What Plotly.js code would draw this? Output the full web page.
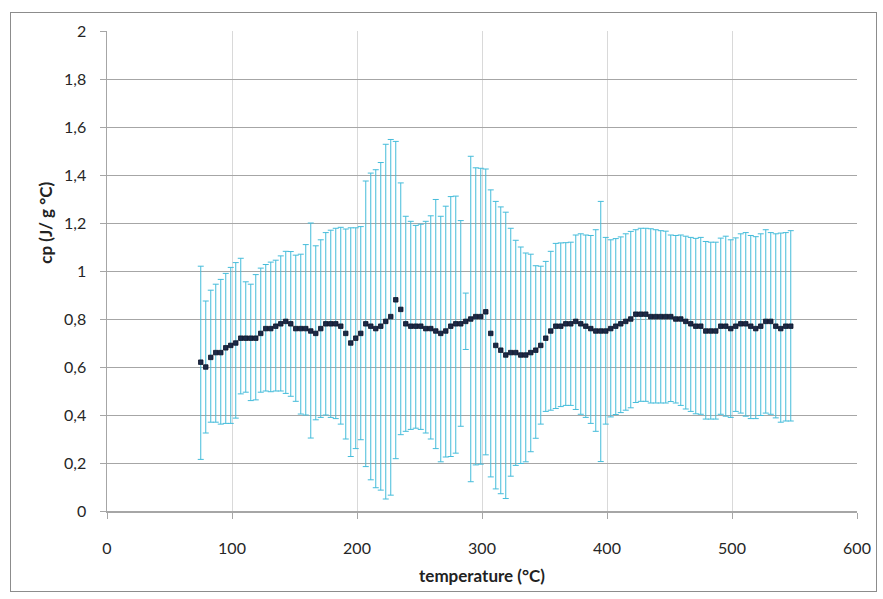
<!DOCTYPE html>
<html>
<head>
<meta charset="utf-8">
<script src="https://cdn.plot.ly/plotly-3.0.1.min.js"></script>
<style>
  html, body { margin: 0; padding: 0; background: #ffffff; }
  #wrap { position: relative; width: 883px; height: 599px; }
  #frame { position: absolute; left: 10px; top: 12px; width: 867px; height: 580px; border: 1px solid #8c8c8c; box-sizing: border-box; pointer-events: none; z-index: 5; }
  #chart { position: absolute; left: 0; top: 0; width: 883px; height: 599px; }
</style>
</head>
<body>
<div id="wrap">
  <div id="chart"></div>
  <div id="frame"></div>
</div>
<script>
const temperature = [75,79,83,87,91,95,99,103,107,111,115,119,123,127,131,135,139,143,147,151,155,159,163,167,171,175,179,183,187,191,195,199,203,207,211,215,219,223,227,231,235,239,243,247,251,255,259,263,267,271,275,279,283,287,291,295,299,303,307,311,315,319,323,327,331,335,339,343,347,351,355,359,363,367,371,375,379,383,387,391,395,399,403,407,411,415,419,423,427,431,435,439,443,447,451,455,459,463,467,471,475,479,483,487,491,495,499,503,507,511,515,519,523,527,531,535,539,543,547];

const cp = [0.62,0.60,0.64,0.66,0.66,0.68,0.69,0.70,0.72,0.72,0.72,0.72,0.74,0.76,0.76,0.77,0.78,0.79,0.78,0.76,0.76,0.76,0.75,0.74,0.76,0.78,0.78,0.78,0.77,0.74,0.70,0.72,0.74,0.78,0.77,0.76,0.77,0.79,0.81,0.88,0.84,0.78,0.77,0.77,0.77,0.76,0.76,0.75,0.74,0.75,0.77,0.78,0.78,0.79,0.80,0.81,0.81,0.83,0.74,0.69,0.67,0.65,0.66,0.66,0.65,0.65,0.66,0.67,0.69,0.72,0.75,0.77,0.77,0.78,0.78,0.79,0.78,0.77,0.76,0.75,0.75,0.75,0.76,0.77,0.78,0.79,0.80,0.82,0.82,0.82,0.81,0.81,0.81,0.81,0.81,0.80,0.80,0.79,0.78,0.77,0.77,0.75,0.75,0.75,0.77,0.77,0.76,0.77,0.78,0.78,0.77,0.76,0.77,0.79,0.79,0.77,0.76,0.77,0.77];

const cpHigh = [1.02,0.875,0.92,0.945,0.965,0.99,1.015,1.035,1.053,0.955,0.945,0.985,1.012,1.027,1.037,1.045,1.063,1.082,1.081,1.066,1.07,1.11,1.2,1.105,1.13,1.16,1.17,1.178,1.182,1.175,1.18,1.18,1.185,1.375,1.408,1.422,1.452,1.528,1.548,1.54,1.367,1.228,1.207,1.19,1.195,1.207,1.23,1.298,1.228,1.27,1.31,1.312,1.21,0.908,1.478,1.43,1.428,1.425,1.338,1.29,1.267,1.245,1.178,1.128,1.1,1.075,1.07,1.022,1.02,1.04,1.082,1.115,1.117,1.118,1.12,1.15,1.155,1.15,1.148,1.172,1.29,1.14,1.13,1.135,1.142,1.155,1.165,1.172,1.178,1.178,1.176,1.172,1.168,1.166,1.15,1.148,1.15,1.145,1.14,1.136,1.14,1.123,1.12,1.12,1.137,1.145,1.13,1.138,1.155,1.16,1.148,1.143,1.155,1.172,1.16,1.155,1.158,1.16,1.168];

const cpLow = [0.215,0.325,0.37,0.37,0.362,0.365,0.365,0.387,0.488,0.495,0.46,0.463,0.495,0.5,0.497,0.5,0.5,0.49,0.478,0.457,0.404,0.40,0.304,0.38,0.39,0.40,0.39,0.385,0.362,0.3,0.227,0.26,0.297,0.185,0.13,0.097,0.087,0.05,0.066,0.218,0.318,0.332,0.34,0.345,0.34,0.325,0.3,0.26,0.205,0.225,0.227,0.241,0.353,0.673,0.122,0.192,0.195,0.234,0.142,0.092,0.072,0.052,0.145,0.19,0.198,0.205,0.247,0.303,0.362,0.415,0.42,0.427,0.435,0.44,0.44,0.423,0.403,0.39,0.365,0.332,0.206,0.362,0.392,0.402,0.41,0.42,0.43,0.452,0.457,0.457,0.45,0.45,0.45,0.45,0.456,0.45,0.44,0.425,0.415,0.405,0.403,0.383,0.383,0.383,0.403,0.395,0.39,0.415,0.408,0.395,0.385,0.385,0.398,0.408,0.403,0.388,0.37,0.375,0.375];

const xTickVals = [0,100,200,300,400,500,600];
const yTickVals = [0,0.2,0.4,0.6,0.8,1,1.2,1.4,1.6,1.8,2];

const errPlus = cp.map((v, i) => cpHigh[i] - v);
const errMinus = cp.map((v, i) => v - cpLow[i]);

const trace = {
  x: temperature,
  y: cp,
  type: 'scatter',
  mode: 'markers',
  marker: { symbol: 'square', size: 4.5, color: '#1c2a48', line: { color: '#0d1428', width: 0.8 } },
  error_y: {
    type: 'data', symmetric: false, array: errPlus, arrayminus: errMinus,
    color: '#45bcda', thickness: 1, width: 3
  },
  hoverinfo: 'x+y'
};

const fam = 'Lato, "Open Sans", "Liberation Sans", sans-serif';
const tickFont = { family: fam, size: 16, color: '#262626' };
const titleFont = { family: fam, size: 17, color: '#222222' };

const layout = {
  width: 883, height: 599,
  paper_bgcolor: '#ffffff', plot_bgcolor: '#ffffff',
  margin: { l: 107, r: 26, t: 31, b: 88 },
  separators: ', ',
  showlegend: false,
  font: tickFont,
  xaxis: {
    range: [0, 600], tickvals: xTickVals, ticktext: xTickVals.map(String),
    showgrid: true, gridcolor: '#d9d9d9', gridwidth: 1,
    showline: true, linecolor: '#a6a6a6', linewidth: 1.5,
    ticks: 'outside', ticklen: 6, tickcolor: '#a6a6a6',
    ticklabelstandoff: 16,
    zeroline: false, tickfont: tickFont,
    title: { text: '<b>temperature (°C)</b>', font: titleFont, standoff: 14 }
  },
  yaxis: {
    range: [0, 2], tickvals: yTickVals,
    showgrid: true, gridcolor: '#a6a6a6', gridwidth: 1,
    showline: true, linecolor: '#a6a6a6', linewidth: 1.5,
    ticks: 'outside', ticklen: 6, tickcolor: '#a6a6a6',
    ticklabelstandoff: 10,
    zeroline: false, tickfont: tickFont
  },
  annotations: [{
    text: '<b>cp (J/ g °C)</b>', font: titleFont, textangle: -90,
    xref: 'paper', yref: 'paper', x: -0.083, y: 0.6,
    xanchor: 'center', yanchor: 'middle', showarrow: false
  }]
};

Plotly.newPlot('chart', [trace], layout, { displayModeBar: false, staticPlot: true });
</script>
</body>
</html>
